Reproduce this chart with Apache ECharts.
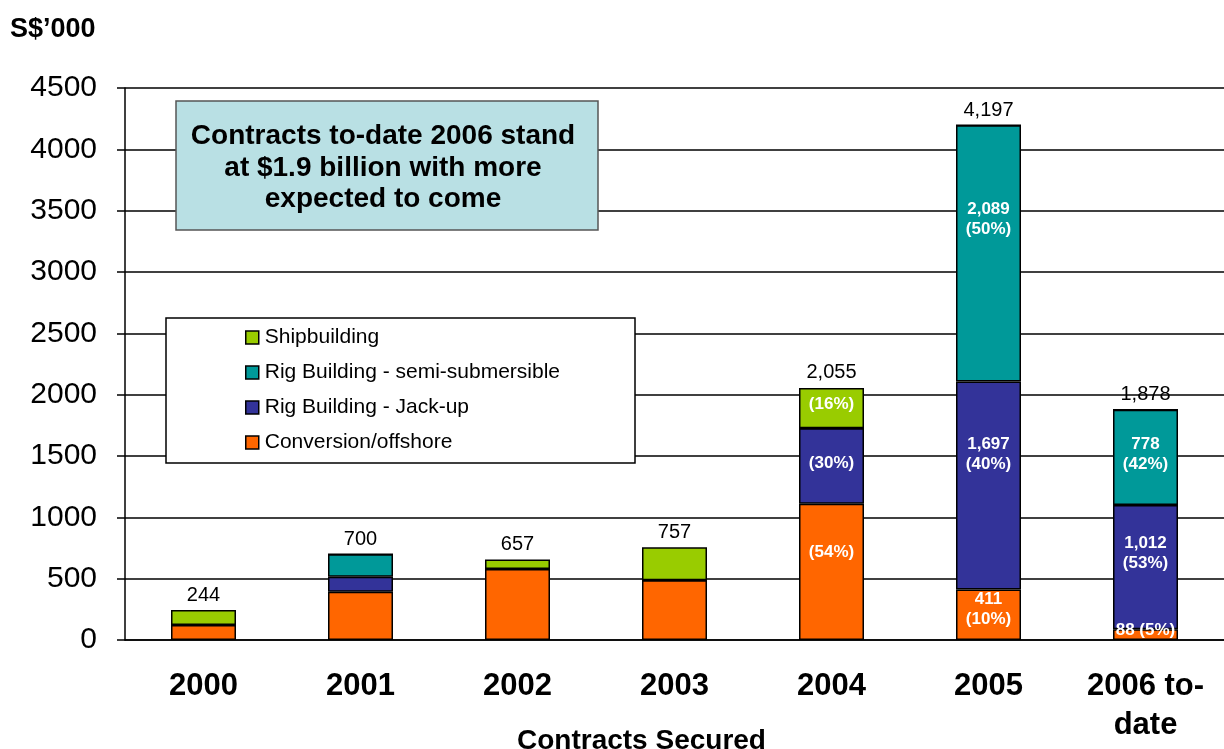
<!DOCTYPE html>
<html>
<head>
<meta charset="utf-8">
<script src="https://cdn.jsdelivr.net/npm/echarts@6/dist/echarts.min.js"></script>
<style>
  html, body { margin: 0; padding: 0; background: #fff; }
  #main { width: 1224px; height: 749px; }
</style>
</head>
<body>
<div id="main"></div>
<script>
// categories and values (S$'000)
var years = ['2000', '2001', '2002', '2003', '2004', '2005', '2006 to-\ndate'];
var conversion = [122, 394, 579, 487, 1110, 411, 88];
var jackUp = [0, 122, 0, 0, 617, 1697, 1012];
var semiSub = [0, 184, 0, 0, 0, 2089, 778];
var shipbuilding = [122, 0, 78, 270, 328, 0, 0];
var totals = [244, 700, 657, 757, 2055, 4197, 1878];

// in-bar labels
var conversionLabels = ['', '', '', '', '(54%)', '411\n(10%)', '88 (5%)'];
var jackUpLabels = ['', '', '', '', '(30%)', '1,697\n(40%)', '1,012\n(53%)'];
var semiSubLabels = ['', '', '', '', '', '2,089\n(50%)', '778\n(42%)'];
var shipbuildingLabels = ['', '', '', '', '(16%)', '', ''];

// label nudges [dx, dy] in pixels, per category
var conversionNudge = [[0, 0], [0, 0], [0, 0], [0, 0], [0, -20], [0, -5], [0, -4]];
var jackUpNudge = [[0, 0], [0, 0], [0, 0], [0, 0], [0, -3], [0, -31], [0, -14]];
var semiSubNudge = [[0, 0], [0, 0], [0, 0], [0, 0], [0, 0], [0, -34], [0, -3]];
var shipbuildingNudge = [[0, 0], [0, 0], [0, 0], [0, 0], [0, -4], [0, 0], [0, 0]];

var colors = {
    ship: '#99cc00',
    semi: '#009999',
    jack: '#333399',
    conv: '#ff6600'
};

var FONT = 'Liberation Sans, Arial, sans-serif';

function withLabels(values, labels, nudges) {
    var out = [];
    for (var i = 0; i < values.length; i++) {
        out.push({ value: values[i], labelText: labels[i], label: { offset: nudges[i] } });
    }
    return out;
}

var innerLabel = {
    show: true,
    position: 'inside',
    color: '#fff',
    fontWeight: 'bold',
    fontSize: 17,
    lineHeight: 20,
    fontFamily: FONT,
    formatter: function (p) { return p.data.labelText; }
};

function barSeries(name, values, labels, nudges, color) {
    return {
        name: name,
        type: 'bar',
        stack: 'total',
        barWidth: 65,
        data: withLabels(values, labels, nudges),
        itemStyle: { color: color, borderColor: '#000', borderWidth: 1.5 },
        label: innerLabel,
        emphasis: { disabled: true }
    };
}

var chart = echarts.init(document.getElementById('main'));

var option = {
    animation: false,
    textStyle: { fontFamily: FONT },
    grid: { left: 125, right: -7, top: 88, bottom: 109 },
    legend: {
        orient: 'vertical',
        left: 240,
        top: 322,
        z: 6,
        icon: 'rect',
        itemWidth: 13,
        itemHeight: 13,
        itemGap: 14,
        data: ['Shipbuilding', 'Rig Building - semi-submersible', 'Rig Building - Jack-up', 'Conversion/offshore'],
        textStyle: { fontSize: 21, color: '#000', padding: [0, 0, 0, 1] },
        itemStyle: { borderColor: '#000', borderWidth: 1.5 }
    },
    xAxis: {
        type: 'category',
        data: years,
        axisLine: { lineStyle: { color: '#000', width: 1.5 } },
        axisTick: { length: 10, lineStyle: { color: '#000', width: 1.5 } },
        axisLabel: { color: '#000', fontSize: 31, fontWeight: 'bold', margin: 27, lineHeight: 39 }
    },
    yAxis: {
        type: 'value',
        min: 0,
        max: 4500,
        interval: 500,
        axisLine: { show: true, lineStyle: { color: '#000', width: 1.5 } },
        axisTick: { show: true, length: 8, lineStyle: { color: '#000', width: 1.5 } },
        axisLabel: { color: '#000', fontSize: 30, margin: 28, formatter: function (v) { return String(v); } },
        splitLine: { lineStyle: { color: '#000', width: 1.5 } }
    },
    graphic: [
        {
            type: 'text', left: 10, top: 16, z: 10,
            style: { text: 'S$\u2019000', fontSize: 27, fontWeight: 'bold', fill: '#000', fontFamily: FONT }
        },
        {
            type: 'text', left: 517, top: 727, z: 10,
            style: { text: 'Contracts Secured', fontSize: 28, fontWeight: 'bold', fill: '#000', fontFamily: FONT }
        },
        {
            type: 'rect', z: 10,
            shape: { x: 176, y: 101, width: 422, height: 129 },
            style: { fill: '#b9e0e4', stroke: '#555', lineWidth: 1.5 }
        },
        {
            type: 'text', z: 11,
            x: 383, y: 168,
            style: {
                text: 'Contracts to-date 2006 stand\nat $1.9 billion with more\nexpected to come',
                fontSize: 28, fontWeight: 'bold', fill: '#000', lineHeight: 31.5,
                align: 'center', verticalAlign: 'middle',
                fontFamily: FONT
            }
        },
        {
            type: 'rect', z: 5,
            shape: { x: 166, y: 318, width: 469, height: 145 },
            style: { fill: '#fff', stroke: '#000', lineWidth: 1.5 }
        }
    ],
    series: [
        barSeries('Conversion/offshore', conversion, conversionLabels, conversionNudge, colors.conv),
        barSeries('Rig Building - Jack-up', jackUp, jackUpLabels, jackUpNudge, colors.jack),
        barSeries('Rig Building - semi-submersible', semiSub, semiSubLabels, semiSubNudge, colors.semi),
        barSeries('Shipbuilding', shipbuilding, shipbuildingLabels, shipbuildingNudge, colors.ship),
        {
            name: 'Total',
            type: 'line',
            data: totals,
            symbol: 'circle',
            symbolSize: 1,
            showSymbol: true,
            itemStyle: { color: 'transparent', borderColor: 'transparent' },
            lineStyle: { color: 'transparent', width: 0 },
            label: {
                show: true,
                position: 'top',
                distance: 4,
                color: '#000',
                fontSize: 20,
                formatter: function (p) { return echarts.format.addCommas(p.value); }
            },
            emphasis: { disabled: true },
            z: 8
        }
    ]
};

chart.setOption(option);
</script>
</body>
</html>
